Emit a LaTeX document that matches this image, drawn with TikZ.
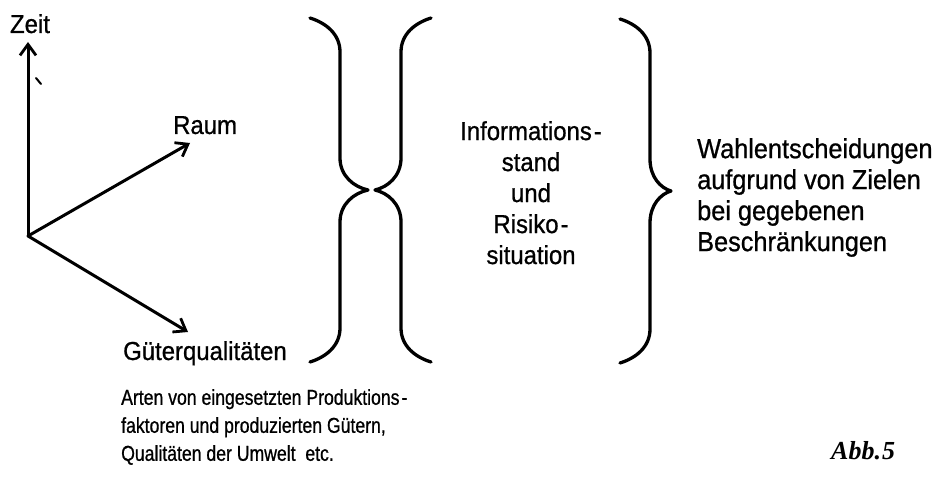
\documentclass[tikz,border=0pt]{standalone}
\usepackage{fontspec}
\setmainfont{Liberation Sans}
\newfontfamily\labelfont[FakeStretch=0.92,FakeBold=0.8]{Liberation Sans}
\newfontfamily\notefont[FakeStretch=0.82,FakeBold=0.8]{Liberation Sans}
\newfontfamily\abbfont{Liberation Serif}
\usetikzlibrary{arrows.meta}

\begin{document}
\begin{tikzpicture}[x=1pt,y=-1pt,
  axis/.style={line width=3pt, line cap=round,
    -{Straight Barb[length=11pt,width=16pt,line width=2.8pt]}},
  bracestroke/.style={line width=3.3pt, line cap=round, line join=round},
  label/.style={inner sep=0pt, font=\labelfont\fontsize{26}{31}\selectfont},
  note/.style={inner sep=0pt, font=\notefont\fontsize{21.5}{28}\selectfont, align=left},
  pics/curly/.style={code={
    \draw[bracestroke] (-30,-172) .. controls (-14,-167) and (0,-156) .. (0,-138)
      -- (0,-32) .. controls (0,-14) and (#1/2,-3) .. (#1,0)
      .. controls (#1/2,3) and (0,14) .. (0,32)
      -- (0,138) .. controls (0,156) and (-14,167) .. (-30,172);
  }}
]
\useasboundingbox (0,0) rectangle (939,478);

% coordinate axes
\coordinate (O) at (28,236);
\coordinate (zt) at (28,42);
\coordinate (rt) at (190,143);
\coordinate (gt) at (188,332);
\draw[axis] (O) -- (zt);
\draw[axis] (O) -- (rt);
\draw[axis] (O) -- (gt);
\draw[line width=2pt, line cap=round] (36,78) -- (41,84);

\node[label, anchor=base] (zeit) at (30,33) {Zeit};
\node[label, anchor=base west] (raum) at (173,134) {Raum};
\node[label, anchor=base west] (gueter) at (123,360) {Güterqualitäten};

% braces
\pic at (340,190) {curly=28};
\pic[xscale=-1] at (401,190) {curly=26};
\pic at (650,191) {curly=21};

\node[label, align=center, anchor=north] (info) at (531,121)
  {Informations\kern2pt-\\stand\\und\\Risiko\kern2pt-\\situation};
\node[label, align=left, anchor=north west, font=\labelfont\fontsize{27.5}{31}\selectfont] (wahl) at (697,138)
  {Wahlentscheidungen\\aufgrund von Zielen\\bei gegebenen\\Beschränkungen};

\node[note, anchor=north west] (arten) at (121,389)
  {Arten von eingesetzten Produktions\kern2pt-\\faktoren und produzierten Gütern,\\Qualitäten der Umwelt\ \ etc.};

\node[inner sep=0pt, anchor=base west,
  font={\abbfont\fontsize{26}{30}\selectfont\bfseries\itshape}] (abb) at (831,459) {Abb.\kern1pt5};
\end{tikzpicture}
\end{document}
